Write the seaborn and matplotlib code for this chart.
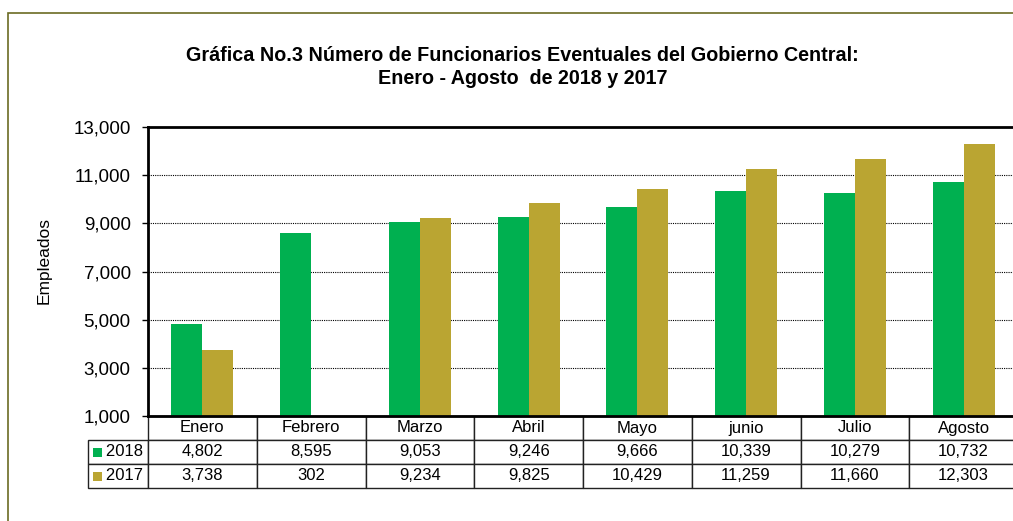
import pandas as pd
import matplotlib.pyplot as plt
import seaborn as sns
from matplotlib.patches import Rectangle
from matplotlib.ticker import StrMethodFormatter

sns.set_style("white")
plt.rcParams['font.family'] = ['Liberation Sans', 'DejaVu Sans']
plt.rcParams.update({'text.color': 'black', 'axes.labelcolor': 'black',
                     'xtick.color': 'black', 'ytick.color': 'black'})

# data
meses = ["Enero", "Febrero", "Marzo", "Abril", "Mayo", "junio", "Julio", "Agosto"]
anios = ["2018", "2017"]
valores_2018 = [4802, 8595, 9053, 9246, 9666, 10339, 10279, 10732]
valores_2017 = [3738, 302, 9234, 9825, 10429, 11259, 11660, 12303]
colores = ["#00B050", "#BAA532"]

df = pd.DataFrame({
    "Mes": meses * 2,
    "Año": [anios[0]] * len(meses) + [anios[1]] * len(meses),
    "Empleados": valores_2018 + valores_2017,
})

fig = plt.figure(figsize=(10.13, 5.21), dpi=100)
ax = fig.add_axes([148 / 1013, 105 / 521, 870 / 1013, 289 / 521])

sns.barplot(data=df, x="Mes", y="Empleados", hue="Año", order=meses, hue_order=anios,
            palette=colores, saturation=1, width=0.57, linewidth=0, legend=False, ax=ax)

ax.set_ylim(1000, 13000)
ax.set_xlim(-0.5, len(meses) - 0.5)
ax.set_yticks(range(1000, 13001, 2000))
ax.yaxis.set_major_formatter(StrMethodFormatter("{x:,.0f}"))
ax.tick_params(axis='y', direction='out', length=4.5, width=1, pad=8, labelsize=13.5,
               color='black', left=True)
ax.set_xticks([])
ax.set_xlabel("")
ax.set_ylabel("Empleados", fontsize=12.5)
ax.yaxis.set_label_coords(-96 / 870, 156 / 289)
ax.yaxis.grid(True, linestyle=(0, (1, 1)), color='black', linewidth=0.8)
ax.set_axisbelow(True)
for s in ax.spines.values():
    s.set_color('black')
    s.set_linewidth(2)

# data table under the plot (Excel style), first column holds the series names
celdas = [["   " + anios[0]] + [f"{v:,}" for v in valores_2018],
          ["   " + anios[1]] + [f"{v:,}" for v in valores_2017]]
tabla = ax.table(cellText=celdas, colLabels=[""] + meses, cellLoc='center',
                 colWidths=[60 / 930] + [108.75 / 930] * len(meses),
                 bbox=[-60 / 870, -72 / 289, 930 / 870, 72 / 289])
tabla.auto_set_font_size(False)
tabla.set_fontsize(12)
for (r, c), cell in tabla.get_celld().items():
    cell.set_edgecolor('#222222')
    cell.set_linewidth(1)
    if r == 0 and c == 0:
        cell.visible_edges = ''

# legend keys in the row labels
for i, c in enumerate(colores):
    ax.add_patch(Rectangle((-55 / 870, (-36 - 24 * i - 4.5) / 289), 9 / 870, 9 / 289,
                           transform=ax.transAxes, facecolor=c, edgecolor='none',
                           clip_on=False, zorder=5))

fig.text(0.516, 0.872,
         "Gráfica No.3 Número de Funcionarios Eventuales del Gobierno Central:\n"
         "Enero - Agosto  de 2018 y 2017",
         ha='center', va='center', fontsize=14.2, fontweight='bold', linespacing=1.25)

# outer chart frame
fig.patches.append(Rectangle((8 / 1013, -0.1), 1.2, 0.1 + 508 / 521,
                             transform=fig.transFigure, fill=False,
                             edgecolor='#6b6b23', linewidth=1.2))

fig.savefig("out.png", dpi=100)
